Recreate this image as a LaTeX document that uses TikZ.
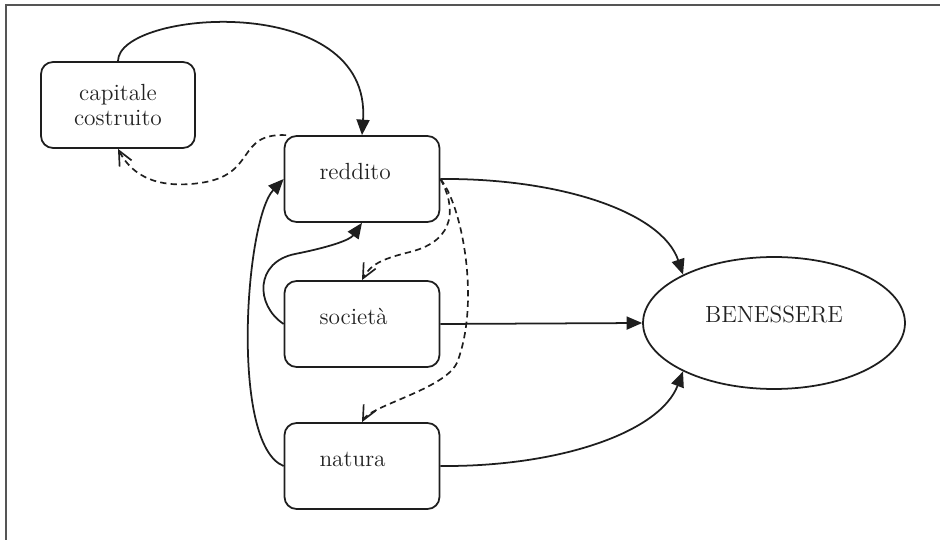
\documentclass[tikz,border=0pt]{standalone}
\usepackage{fontspec}
\usetikzlibrary{arrows.meta,shapes.geometric}
\definecolor{linea}{HTML}{1E1E1E}
\definecolor{cornice}{HTML}{555555}
\definecolor{testo}{HTML}{222222}
\begin{document}
\begin{tikzpicture}[x=.02cm,y=-.02cm,font=\fontsize{13.3}{14.4}\selectfont,
	box/.style={draw=linea,line width=1pt,rounded corners=2.4mm,text=testo},
	lbox/.style={box,text width=1.7cm,inner xsep=.7cm,align=left,minimum height=1.72cm,text height=9pt,text depth=8.6pt},
	freccia/.style={linea,line width=1pt,-{Triangle[length=3.1mm,width=2.6mm]}},
	tratteggio/.style={linea,line width=.95pt,dash pattern=on 3.6pt off 2.4pt,-{Straight Barb[length=2.9mm,width=2.7mm]}}]% CAPITALE E BENESSERE
			\useasboundingbox (0,0) rectangle (940,540);
			\draw[cornice,line width=1.2pt] (6,540) |- (940,5);
			\node[box,minimum width=3.08cm,minimum height=1.72cm,align=center] (cap) at (118,105) {capitale\\costruito};
			\foreach \n/\y/\t in {red/179/reddito,soc/324/società,nat/466/natura}
			\node[lbox] (\n) at (362,\y) {\t};
			\node[ellipse,draw=linea,line width=1pt,minimum width=5.24cm,minimum height=2.64cm,inner sep=0pt,text height=8.6pt,text depth=9.1pt,text=testo] (ben) at (774,323) {BENESSERE};
			\draw[freccia] (cap.north) .. controls (118,10) and (372,-10) .. (red.north);
			\draw[tratteggio] (red.150) .. controls (235,133) and (258,175) .. (200,183) .. controls (150,190) and (129,170) .. (cap.south);
			\draw[freccia] (red.east) .. controls (560,178) and (662,212) .. (ben.152);
			\draw[freccia] (soc.east) -- (ben.west);
			\draw[freccia] (nat.east) .. controls (560,467) and (660,432) .. (ben.208);
			\draw[freccia] (nat.west) .. controls (230,445) and (245,220) .. (red.west);
			\draw[freccia] (soc.west) .. controls (255,305) and (255,262) .. (295,254) .. controls (330,247) and (350,240) .. (red.south);
			\draw[tratteggio] (red.east) .. controls (455,205) and (458,240) .. (410,252) .. controls (386,258) and (371,263) .. (soc.north);
			\draw[tratteggio] (red.east) .. controls (462,205) and (480,300) .. (458,360) .. controls (450,388) and (371,405) .. (nat.north);
			\end{tikzpicture}
\end{document}
